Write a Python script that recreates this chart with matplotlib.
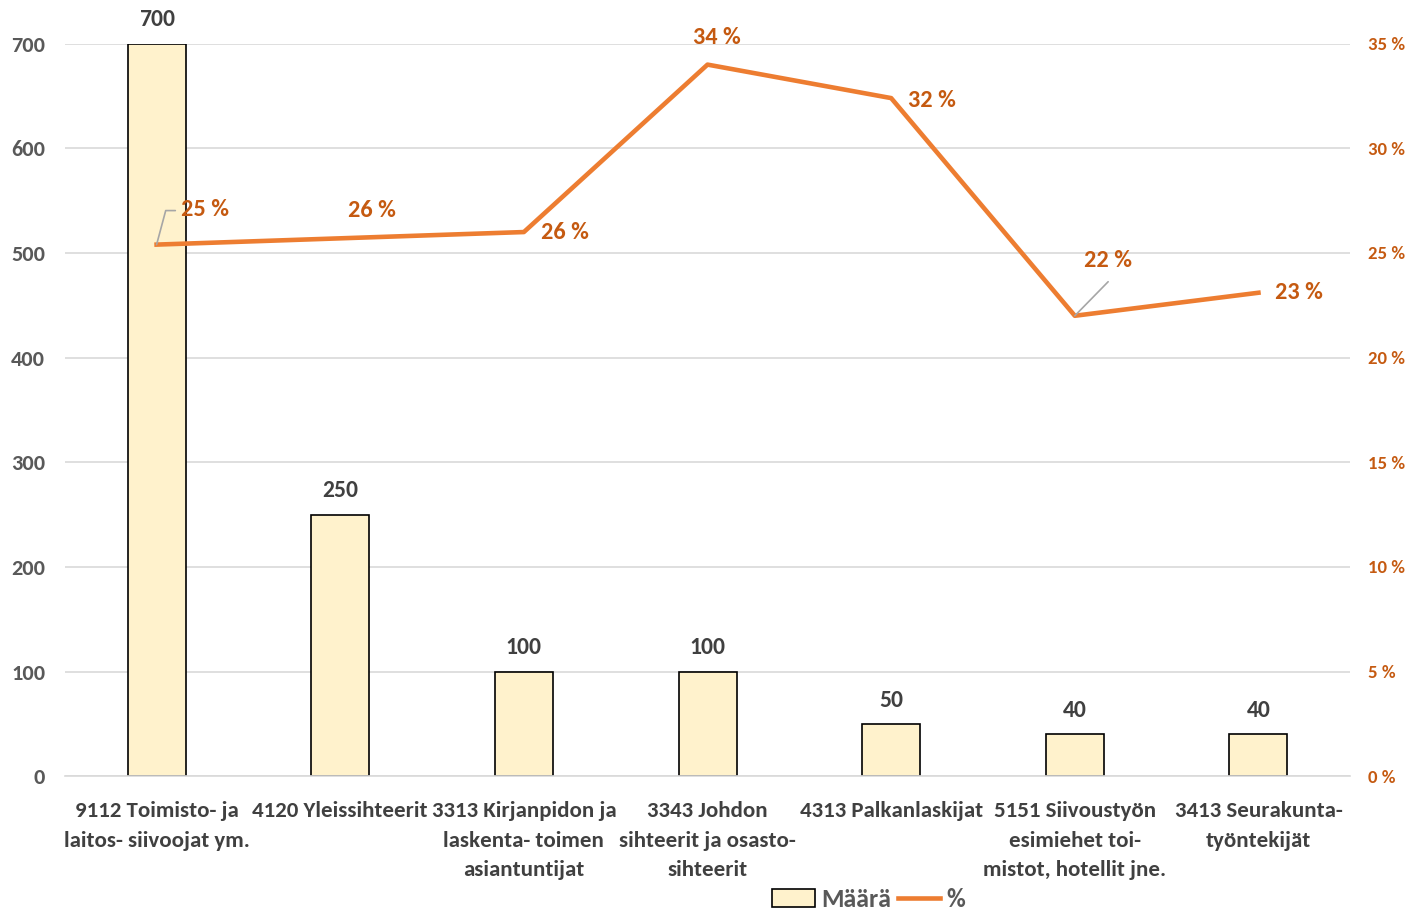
import matplotlib
matplotlib.use("Agg")
import matplotlib.pyplot as plt

# Carlito is metric-compatible with Calibri
plt.rcParams["font.family"] = ["Carlito", "DejaVu Sans"]
plt.rcParams["font.weight"] = "bold"

categories = [
    "9112 Toimisto- ja\nlaitos- siivoojat ym.",
    "4120 Yleissihteerit",
    "3313 Kirjanpidon ja\nlaskenta- toimen\nasiantuntijat",
    "3343 Johdon\nsihteerit ja osasto-\nsihteerit",
    "4313 Palkanlaskijat",
    "5151 Siivoustyön\nesimiehet toi-\nmistot, hotellit jne.",
    "3413 Seurakunta-\ntyöntekijät",
]
counts = [700, 250, 100, 100, 50, 40, 40]
shares = [25.4, 25.7, 26.0, 34.0, 32.4, 22.0, 23.1]
share_labels = ["25 %", "26 %", "26 %", "34 %", "32 %", "22 %", "23 %"]

bar_fill = "#FFF2CC"
line_col = "#ED7D31"
pct_col = "#C55A11"
grey = "#595959"

fig = plt.figure(figsize=(14.08, 9.10), dpi=100)
ax = fig.add_axes([0.046, 0.147, 0.913, 0.805])
ax2 = ax.twinx()

x = list(range(len(categories)))
bars = ax.bar(x, counts, width=0.316, color=bar_fill, edgecolor="black",
              linewidth=1.2, zorder=2, label="Määrä")
for xi, v in zip(x, counts):
    ax.annotate(str(v), (xi, v), xytext=(0, 9.5), textcoords="offset points",
                ha="center", va="bottom", fontsize=17, color="#404040")

ax.set_xlim(-0.5, 6.5)
ax.set_ylim(0, 700)
ax.set_yticks(range(0, 701, 100))
ax.grid(axis="y", color="#D9D9D9", linewidth=1.2, zorder=0)
ax.set_axisbelow(True)
for s in ["top", "left", "right"]:
    ax.spines[s].set_visible(False)
ax.spines["bottom"].set_color("#D9D9D9")
ax.spines["bottom"].set_linewidth(1.2)
ax.tick_params(axis="y", length=0, labelsize=16, labelcolor=grey, pad=14)
ax.tick_params(axis="x", length=0, labelsize=16.5, labelcolor="#404040", pad=18)
ax.set_xticks(x)
ax.set_xticklabels(categories, linespacing=1.6)

line, = ax2.plot(x, shares, color=line_col, linewidth=3.3, zorder=3, label="%")
ax2.set_ylim(0, 35)
ax2.set_yticks(range(0, 36, 5))
ax2.set_yticklabels([f"{t} %" for t in range(0, 36, 5)])
ax2.tick_params(axis="y", length=0, labelsize=13.5, labelcolor=pct_col, pad=13)
for s in ax2.spines.values():
    s.set_visible(False)

# percentage labels (offsets in points)
offsets = [(35, 25), (23, 20), (29.5, 0), (6.5, 19.5), (29.5, -1.5), (24, 39.5), (29.5, 0)]
for i, (lab, off) in enumerate(zip(share_labels, offsets)):
    ax2.annotate(lab, (x[i], shares[i]), xytext=off, textcoords="offset points",
                 ha="center", va="center", fontsize=17.5, color=pct_col)
# leader lines
ax2.annotate("", (x[0], shares[0]), xytext=(13.5, 24.5), textcoords="offset points",
             arrowprops=dict(arrowstyle="-", color="#A6A6A6", lw=1.2,
                             shrinkA=0, shrinkB=0, connectionstyle="angle,angleA=0,angleB=75,rad=0"))
ax2.annotate("", (x[5], shares[5]), xytext=(24, 24.5), textcoords="offset points",
             arrowprops=dict(arrowstyle="-", color="#A6A6A6", lw=1.2, shrinkA=0, shrinkB=0))

fig.legend([bars, line], ["Määrä", "%"], loc="center", bbox_to_anchor=(0.617, 0.012),
           ncol=2, frameon=False, fontsize=18.5, handlelength=1.65, handletextpad=0.24,
           columnspacing=0.28, labelcolor=grey)

fig.savefig("out.png", dpi=100)
